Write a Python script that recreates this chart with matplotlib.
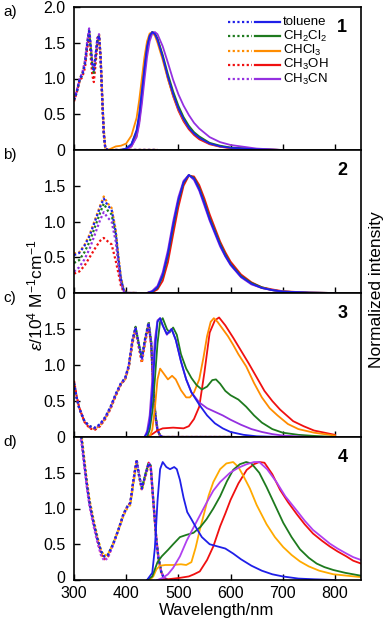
import matplotlib
matplotlib.use("Agg")
import matplotlib.pyplot as plt
from matplotlib.transforms import ScaledTranslation

plt.rcParams['font.family'] = ['Liberation Sans', 'DejaVu Sans']
plt.rcParams['mathtext.fontset'] = 'custom'
plt.rcParams['mathtext.rm'] = 'Liberation Sans'
plt.rcParams['mathtext.it'] = 'Liberation Sans:italic'
plt.rcParams['mathtext.bf'] = 'Liberation Sans:bold'

solvents = ['toluene', 'CH$_2$Cl$_2$', 'CHCl$_3$', 'CH$_3$OH', 'CH$_3$CN']
colors = ['#1f1fe8', '#1e7a1e', '#ff8c00', '#f01010', '#9430e0']
colors_d = ['#1f1fe8', '#1e7a1e', '#ffaa00', '#f01010', '#b040f0']
panel_numbers = ['1', '2', '3', '4']
panel_letters = ['a)', 'b)', 'c)', 'd)']
xticks = [300, 400, 500, 600, 700, 800]

# ---------------- Panel a (compound 1) ----------------
abs_a_wl = [300, 305, 311, 316, 321, 325, 329, 332, 335, 338, 342, 345, 348, 351, 354, 357, 360, 365, 400, 460]
abs_a = [
    [0.70, 0.80, 1.00, 1.05, 1.20, 1.45, 1.66, 1.45, 1.20, 1.10, 1.35, 1.55, 1.60, 1.30, 0.75, 0.25, 0.02, 0.0, 0.0, 0.0],
    [0.70, 0.80, 0.98, 1.05, 1.22, 1.47, 1.67, 1.42, 1.18, 1.08, 1.33, 1.54, 1.60, 1.28, 0.72, 0.22, 0.02, 0.0, 0.0, 0.0],
    [0.70, 0.82, 1.00, 1.07, 1.22, 1.46, 1.65, 1.46, 1.22, 1.12, 1.36, 1.57, 1.62, 1.33, 0.80, 0.30, 0.03, 0.0, 0.0, 0.0],
    [0.68, 0.80, 0.97, 1.02, 1.15, 1.40, 1.62, 1.30, 1.05, 0.95, 1.25, 1.50, 1.58, 1.25, 0.70, 0.22, 0.02, 0.0, 0.0, 0.0],
    [0.72, 0.82, 1.00, 1.08, 1.25, 1.50, 1.70, 1.48, 1.22, 1.12, 1.38, 1.58, 1.62, 1.30, 0.74, 0.24, 0.02, 0.0, 0.0, 0.0],
]
em_a_wl = [365, 380, 390, 400, 410, 420, 425, 430, 435, 440, 445, 450, 455, 460, 470, 480, 490, 500, 510,
           520, 530, 540, 560, 580, 600, 650, 700]
em_a = [
    [0.0, 0.0, 0.0, 0.02, 0.08, 0.28, 0.50, 0.82, 1.15, 1.45, 1.60, 1.65, 1.62, 1.54, 1.30, 1.02, 0.78, 0.58, 0.43,
     0.31, 0.23, 0.17, 0.09, 0.05, 0.03, 0.01, 0.0],
    [0.0, 0.0, 0.0, 0.02, 0.08, 0.26, 0.47, 0.78, 1.12, 1.42, 1.59, 1.65, 1.63, 1.56, 1.33, 1.06, 0.82, 0.62, 0.46,
     0.34, 0.25, 0.19, 0.10, 0.06, 0.035, 0.01, 0.0],
    [0.0, 0.05, 0.06, 0.09, 0.20, 0.45, 0.70, 1.00, 1.30, 1.52, 1.63, 1.64, 1.60, 1.50, 1.26, 0.99, 0.76, 0.57, 0.42,
     0.31, 0.23, 0.17, 0.09, 0.05, 0.03, 0.01, 0.0],
    [0.0, 0.0, 0.0, 0.01, 0.05, 0.20, 0.40, 0.72, 1.08, 1.40, 1.58, 1.65, 1.63, 1.55, 1.30, 1.00, 0.75, 0.55, 0.40,
     0.29, 0.21, 0.15, 0.08, 0.045, 0.025, 0.01, 0.0],
    [0.0, 0.0, 0.0, 0.01, 0.05, 0.18, 0.36, 0.64, 0.98, 1.30, 1.52, 1.63, 1.65, 1.62, 1.45, 1.22, 0.98, 0.78, 0.62,
     0.49, 0.38, 0.30, 0.18, 0.11, 0.07, 0.02, 0.0],
]

# ---------------- Panel b (compound 2) ----------------
abs_b_wl = [300, 310, 320, 330, 340, 350, 357, 365, 372, 380, 385, 390, 395, 400, 420]
abs_b = [
    [0.53, 0.56, 0.66, 0.80, 1.00, 1.20, 1.32, 1.22, 1.17, 0.85, 0.50, 0.20, 0.05, 0.0, 0.0],
    [0.42, 0.46, 0.57, 0.72, 0.92, 1.12, 1.25, 1.15, 1.10, 0.80, 0.45, 0.18, 0.04, 0.0, 0.0],
    [0.55, 0.57, 0.67, 0.82, 1.02, 1.22, 1.35, 1.25, 1.19, 0.88, 0.52, 0.22, 0.06, 0.0, 0.0],
    [0.27, 0.30, 0.38, 0.50, 0.62, 0.73, 0.77, 0.72, 0.68, 0.45, 0.28, 0.10, 0.02, 0.0, 0.0],
    [0.30, 0.36, 0.47, 0.62, 0.82, 1.02, 1.13, 1.05, 1.00, 0.72, 0.40, 0.15, 0.03, 0.0, 0.0],
]
em_b_wl = [440, 450, 460, 470, 480, 490, 500, 510, 520, 530, 540, 550, 560, 570, 580, 590, 600, 620, 640,
           660, 680, 700, 750, 800]
em_b = [
    [0.0, 0.02, 0.08, 0.25, 0.55, 0.95, 1.30, 1.55, 1.65, 1.60, 1.45, 1.25, 1.03, 0.85, 0.67, 0.52, 0.40, 0.23,
     0.13, 0.07, 0.04, 0.02, 0.005, 0.0],
    [0.0, 0.02, 0.07, 0.23, 0.52, 0.92, 1.28, 1.54, 1.65, 1.61, 1.47, 1.27, 1.05, 0.87, 0.69, 0.54, 0.41, 0.24,
     0.14, 0.08, 0.04, 0.02, 0.005, 0.0],
    [0.0, 0.02, 0.08, 0.24, 0.54, 0.94, 1.29, 1.55, 1.65, 1.60, 1.46, 1.26, 1.04, 0.86, 0.68, 0.53, 0.40, 0.23,
     0.13, 0.07, 0.04, 0.02, 0.005, 0.0],
    [0.0, 0.01, 0.05, 0.17, 0.43, 0.82, 1.20, 1.50, 1.64, 1.63, 1.51, 1.32, 1.10, 0.91, 0.72, 0.57, 0.44, 0.26,
     0.15, 0.08, 0.05, 0.025, 0.005, 0.0],
    [0.0, 0.03, 0.10, 0.29, 0.60, 1.00, 1.34, 1.57, 1.65, 1.58, 1.43, 1.22, 1.01, 0.83, 0.65, 0.51, 0.39, 0.22,
     0.12, 0.07, 0.04, 0.02, 0.005, 0.0],
]

# ---------------- Panel c (compound 3) ----------------
abs_c_wl = [300, 305, 310, 320, 330, 340, 350, 360, 370, 380, 390, 398, 405, 412, 418, 424, 430, 436, 443,
            448, 452, 456, 460, 465, 470, 600]
abs_c = [
    [0.75, 0.55, 0.40, 0.22, 0.15, 0.13, 0.18, 0.28, 0.42, 0.60, 0.75, 0.82, 1.00, 1.35, 1.52, 1.30, 1.08, 1.35,
     1.58, 1.30, 0.70, 0.30, 0.10, 0.02, 0.0, 0.0],
    [0.75, 0.55, 0.40, 0.22, 0.15, 0.12, 0.17, 0.27, 0.41, 0.59, 0.74, 0.81, 0.98, 1.33, 1.53, 1.30, 1.10, 1.36,
     1.60, 1.32, 0.72, 0.32, 0.11, 0.02, 0.0, 0.0],
    [0.75, 0.55, 0.40, 0.21, 0.13, 0.11, 0.16, 0.26, 0.40, 0.58, 0.74, 0.80, 0.98, 1.32, 1.50, 1.28, 1.06, 1.33,
     1.57, 1.28, 0.68, 0.29, 0.09, 0.02, 0.0, 0.0],
    [0.78, 0.57, 0.41, 0.21, 0.12, 0.10, 0.15, 0.25, 0.39, 0.57, 0.73, 0.80, 0.97, 1.30, 1.48, 1.25, 1.03, 1.30,
     1.55, 1.26, 0.66, 0.28, 0.09, 0.02, 0.0, 0.0],
    [0.75, 0.55, 0.40, 0.22, 0.14, 0.12, 0.17, 0.27, 0.41, 0.59, 0.74, 0.81, 0.99, 1.34, 1.51, 1.29, 1.07, 1.34,
     1.58, 1.30, 0.70, 0.30, 0.10, 0.02, 0.0, 0.0],
]
em_c_tol_wl = [435, 440, 445, 450, 455, 460, 465, 470, 478, 487, 495, 505, 515, 525, 540, 555, 570, 585, 600,
               625, 650, 700]
em_c_tol = [0.0, 0.05, 0.20, 0.60, 1.20, 1.60, 1.65, 1.55, 1.43, 1.50, 1.35, 1.05, 0.80, 0.62, 0.45, 0.30,
            0.19, 0.12, 0.07, 0.03, 0.01, 0.0]
em_c_dcm_wl = [440, 445, 450, 455, 460, 465, 470, 478, 483, 490, 497, 505, 515, 525, 535, 545, 555, 565, 572,
               580, 590, 600, 615, 630, 645, 660, 680, 700, 730, 760, 800]
em_c_dcm = [0.0, 0.10, 0.35, 0.80, 1.30, 1.60, 1.65, 1.50, 1.45, 1.52, 1.42, 1.15, 0.95, 0.82, 0.72, 0.66,
            0.70, 0.79, 0.80, 0.74, 0.64, 0.58, 0.52, 0.42, 0.30, 0.20, 0.11, 0.06, 0.03, 0.015, 0.0]
em_c_chcl3_wl = [445, 450, 455, 460, 465, 472, 480, 488, 495, 505, 515, 522, 530, 540, 548, 555, 562, 568, 575,
                 585, 595, 605, 615, 630, 645, 660, 675, 690, 710, 730, 760, 800]
em_c_chcl3 = [0.0, 0.10, 0.40, 0.80, 0.95, 0.88, 0.80, 0.85, 0.80, 0.65, 0.55, 0.55, 0.62, 0.80, 1.10, 1.40,
              1.60, 1.65, 1.60, 1.50, 1.40, 1.28, 1.15, 0.98, 0.75, 0.55, 0.40, 0.30, 0.18, 0.11, 0.06, 0.02]
em_c_meoh_wl = [440, 450, 460, 470, 490, 510, 520, 530, 540, 550, 560, 570, 578, 590, 605, 620, 635, 650, 665,
                680, 695, 720, 740, 760, 800]
em_c_meoh = [0.0, 0.04, 0.09, 0.12, 0.13, 0.12, 0.15, 0.25, 0.42, 0.90, 1.45, 1.62, 1.66, 1.55, 1.38, 1.20,
             1.02, 0.83, 0.64, 0.50, 0.38, 0.22, 0.15, 0.09, 0.03]
em_c_mecn_wl = [435, 440, 445, 450, 455, 460, 465, 470, 478, 487, 495, 505, 515, 525, 540, 555, 570, 585, 600,
                620, 640, 660, 680, 700, 750]
em_c_mecn = [0.0, 0.08, 0.30, 0.80, 1.35, 1.62, 1.65, 1.55, 1.42, 1.50, 1.35, 1.05, 0.80, 0.62, 0.48, 0.40,
             0.35, 0.30, 0.24, 0.17, 0.11, 0.07, 0.04, 0.02, 0.0]

# ---------------- Panel d (compound 4) ----------------
abs_d_wl = [310, 315, 320, 325, 330, 337, 345, 352, 358, 365, 375, 385, 395, 402, 408, 414, 420, 425, 430, 436,
            443, 447, 452, 458, 462, 467, 472, 480, 500]
abs_d = [
    [2.20, 1.95, 1.62, 1.32, 1.07, 0.82, 0.57, 0.40, 0.33, 0.35, 0.50, 0.70, 0.92, 1.02, 1.08, 1.40, 1.66, 1.45,
     1.28, 1.45, 1.63, 1.58, 1.10, 0.55, 0.30, 0.12, 0.03, 0.0, 0.0],
    [2.20, 1.95, 1.63, 1.33, 1.08, 0.83, 0.58, 0.40, 0.33, 0.35, 0.51, 0.70, 0.93, 1.03, 1.08, 1.40, 1.68, 1.46,
     1.28, 1.46, 1.64, 1.60, 1.12, 0.56, 0.31, 0.12, 0.03, 0.0, 0.0],
    [2.25, 2.00, 1.68, 1.38, 1.12, 0.86, 0.60, 0.41, 0.34, 0.36, 0.50, 0.70, 0.90, 1.00, 1.05, 1.36, 1.64, 1.42,
     1.25, 1.42, 1.60, 1.56, 1.08, 0.54, 0.29, 0.11, 0.03, 0.0, 0.0],
    [2.15, 1.92, 1.60, 1.30, 1.05, 0.80, 0.55, 0.37, 0.29, 0.33, 0.50, 0.70, 0.92, 1.02, 1.08, 1.40, 1.68, 1.46,
     1.27, 1.44, 1.64, 1.60, 1.10, 0.55, 0.30, 0.12, 0.03, 0.0, 0.0],
    [2.10, 1.88, 1.57, 1.27, 1.02, 0.77, 0.52, 0.34, 0.27, 0.31, 0.49, 0.70, 0.92, 1.02, 1.08, 1.40, 1.68, 1.46,
     1.27, 1.45, 1.64, 1.60, 1.10, 0.55, 0.30, 0.12, 0.03, 0.0, 0.0],
]
em_d_tol_wl = [440, 450, 455, 460, 465, 470, 477, 484, 492, 497, 503, 510, 517, 525, 535, 545, 560, 575, 590,
               605, 620, 640, 660, 680, 700, 730, 760, 800]
em_d_tol = [0.0, 0.10, 0.45, 1.10, 1.55, 1.65, 1.58, 1.55, 1.58, 1.55, 1.40, 1.15, 0.95, 0.85, 0.72, 0.60,
            0.50, 0.47, 0.44, 0.37, 0.29, 0.20, 0.13, 0.08, 0.05, 0.02, 0.01, 0.0]
em_d_dcm_wl = [440, 450, 455, 460, 468, 480, 490, 503, 515, 529, 542, 554, 567, 580, 593, 605, 618, 630, 640,
               655, 669, 685, 701, 717, 733, 750, 765, 780, 797, 820, 850]
em_d_dcm = [0.0, 0.05, 0.15, 0.25, 0.33, 0.42, 0.50, 0.60, 0.63, 0.66, 0.74, 0.85, 1.00, 1.17, 1.38, 1.54,
            1.62, 1.65, 1.63, 1.50, 1.30, 1.05, 0.80, 0.60, 0.43, 0.31, 0.23, 0.18, 0.14, 0.10, 0.06]
em_d_chcl3_wl = [445, 452, 458, 465, 475, 490, 505, 515, 525, 533, 541, 550, 558, 567, 580, 592, 605, 615, 625,
                 637, 650, 669, 685, 701, 717, 733, 750, 770, 797, 850]
em_d_chcl3 = [0.0, 0.05, 0.15, 0.20, 0.21, 0.21, 0.22, 0.21, 0.25, 0.45, 0.70, 0.95, 1.18, 1.37, 1.55, 1.63,
              1.65, 1.58, 1.45, 1.28, 1.05, 0.78, 0.60, 0.46, 0.35, 0.26, 0.19, 0.13, 0.08, 0.04]
em_d_meoh_wl = [460, 480, 503, 520, 530, 541, 555, 567, 580, 590, 600, 615, 631, 645, 655, 665, 680, 695, 710,
                727, 742, 758, 775, 790, 805, 822, 835, 850]
em_d_meoh = [0.0, 0.01, 0.03, 0.05, 0.08, 0.12, 0.28, 0.47, 0.75, 0.93, 1.12, 1.35, 1.54, 1.62, 1.65, 1.64,
             1.48, 1.26, 1.09, 0.92, 0.78, 0.65, 0.55, 0.47, 0.40, 0.33, 0.27, 0.23]
em_d_mecn_wl = [460, 470, 480, 490, 503, 516, 528, 541, 554, 567, 580, 599, 615, 631, 645, 655, 670, 688, 705,
                727, 742, 758, 775, 790, 805, 822, 835, 850]
em_d_mecn = [0.0, 0.03, 0.08, 0.17, 0.33, 0.55, 0.72, 0.90, 1.08, 1.25, 1.37, 1.50, 1.57, 1.62, 1.65, 1.65,
             1.55, 1.37, 1.17, 0.97, 0.83, 0.70, 0.60, 0.51, 0.44, 0.37, 0.32, 0.28]

em_c = [(em_c_tol_wl, em_c_tol), (em_c_dcm_wl, em_c_dcm), (em_c_chcl3_wl, em_c_chcl3),
        (em_c_meoh_wl, em_c_meoh), (em_c_mecn_wl, em_c_mecn)]
em_d = [(em_d_tol_wl, em_d_tol), (em_d_dcm_wl, em_d_dcm), (em_d_chcl3_wl, em_d_chcl3),
        (em_d_meoh_wl, em_d_meoh), (em_d_mecn_wl, em_d_mecn)]

panels = [
    (abs_a_wl, abs_a, [(em_a_wl, v) for v in em_a], colors),
    (abs_b_wl, abs_b, [(em_b_wl, v) for v in em_b], colors),
    (abs_c_wl, abs_c, em_c, colors),
    (abs_d_wl, abs_d, em_d, colors_d),
]

W, H = 387, 620
fig = plt.figure(figsize=(W / 100, H / 100), dpi=100)
left, right = 74, 361
edges = [7, 150, 293, 437, 580]
dot = (0, (1.0, 1.1))
draw_order = [3, 2, 1, 4, 0]

axes = []
for i, (awl, aval, ems, cols) in enumerate(panels):
    top, bot = edges[i], edges[i + 1]
    ax = fig.add_axes([left / W, 1 - bot / H, (right - left) / W, (bot - top) / H])
    axes.append(ax)
    for k in draw_order:
        ax.plot(awl, aval[k], color=cols[k], lw=1.6, ls=dot, clip_on=True)
    for k in draw_order:
        ewl, ev = ems[k]
        ax.plot(ewl, ev, color=cols[k], lw=1.3)
    ax.set_xlim(300, 850)
    ax.set_ylim(0, 2.0)
    ax.set_xticks(xticks)
    if i == 0:
        ax.set_yticks([0, 0.5, 1.0, 1.5, 2.0])
        ax.set_yticklabels(['0', '0.5', '1.0', '1.5', '2.0'])
    else:
        ax.set_yticks([0, 0.5, 1.0, 1.5])
        ax.set_yticklabels(['0', '0.5', '1.0', '1.5'])
    ax.tick_params(direction='in', length=4, width=1.0, labelsize=11.5)
    ax.tick_params(axis='y', pad=6)
    ax.tick_params(axis='x', pad=4.5)
    if i < 3:
        ax.tick_params(axis='x', labelbottom=False)
    for s in ax.spines.values():
        s.set_linewidth(1.2)
    ax.text(0.935, 0.86, panel_numbers[i], transform=ax.transAxes, fontsize=13,
            fontweight='bold', ha='center', va='center')
    fig.text(3 / W, 1 - (top + 5) / H, panel_letters[i], fontsize=11, ha='left', va='center')

# lift the bottom panel's "0" a little so it clears the "300" below it
lab0 = axes[-1].yaxis.get_major_ticks()[0].label1
lab0.set_transform(lab0.get_transform() + ScaledTranslation(0, 3 / 100, fig.dpi_scale_trans))

fig.text(217 / W, 1 - 610.5 / H, 'Wavelength/nm', fontsize=12, ha='center', va='center')

# legend keys (dotted = absorption, solid = emission), drawn in figure pixel positions
ax0 = axes[0]
for k in range(5):
    yrow = 1 - (22 + 14.3 * k) / H
    ax0.add_line(plt.Line2D([228 / W, 252 / W], [yrow, yrow], transform=fig.transFigure,
                            color=colors[k], lw=1.6, ls=dot))
    ax0.add_line(plt.Line2D([255 / W, 280 / W], [yrow, yrow], transform=fig.transFigure,
                            color=colors[k], lw=1.6))
    fig.text(283 / W, yrow, solvents[k], fontsize=9.5, ha='left', va='center')

fig.text(35 / W, 1 - 295 / H, r'$\varepsilon$/10$^4$ M$^{-1}$cm$^{-1}$', rotation=90,
         fontsize=12.5, ha='center', va='center')
fig.text(376 / W, 1 - 290 / H, 'Normalized intensity', rotation=90,
         fontsize=12.5, ha='center', va='center')

fig.savefig('out.png', dpi=100)
